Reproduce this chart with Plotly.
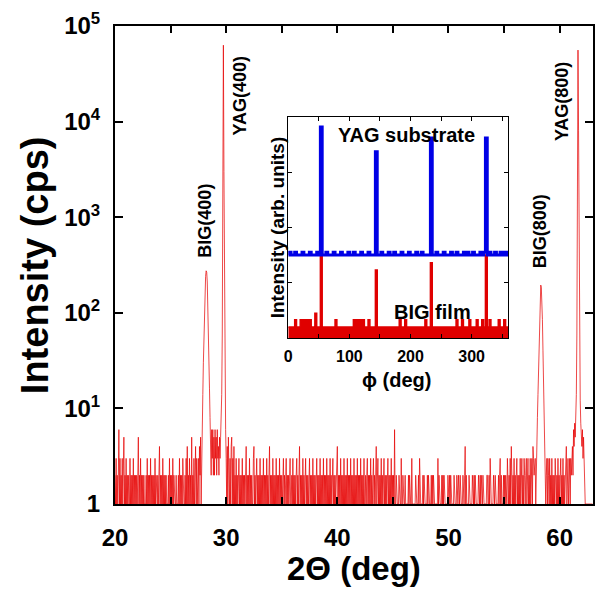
import plotly.graph_objects as go

# ---- 2theta-omega scan, counts per second, 0.05 deg steps ----
step = 0.05

# 20.00 - 27.45
noise_a = [2, 1, 3, 1, 2, 1, 2, 6, 1, 3,
           1, 2, 1, 3, 1, 2, 5, 1, 2, 1,
           3, 1, 2, 1, 2, 1, 1, 3, 1, 2,
           1, 2, 1, 3, 1, 2, 1, 2, 1, 2,
           1, 2, 5, 1, 2, 1, 3, 1, 2, 1,
           2, 1, 2, 1, 1, 1, 2, 1, 3, 1,
           2, 1, 2, 1, 3, 1, 2, 1, 2, 1,
           2, 1, 3, 1, 2, 1, 1, 2, 1, 2,
           4, 1, 2, 1, 2, 1, 3, 1, 2, 1,
           2, 1, 2, 1, 1, 1, 2, 1, 3, 1,
           2, 1, 2, 1, 3, 1, 2, 1, 1, 1,
           2, 1, 1, 1, 2, 1, 3, 1, 2, 1,
           2, 1, 3, 1, 1, 1, 2, 1, 3, 1,
           4, 1, 2, 1, 3, 1, 2, 1, 5, 1,
           2, 1, 3, 1, 2, 4, 1, 3, 1, 2]
# 27.50 - 29.45
big400 = [3, 1, 4, 2, 5, 1, 4, 8, 14, 30,
          60, 110, 180, 240, 275, 265, 210, 130, 70, 35,
          16, 8, 5, 2, 6, 3, 6, 2, 5, 2,
          6, 3, 5, 2, 6, 3, 4, 2, 5, 3]
# 29.50 - 30.45
yag400 = [5, 8, 14, 60, 2500, 63000, 3000, 90, 15, 6,
          3, 1, 4, 1, 5, 2, 1, 3, 1, 4]
# 30.50 - 57.75
noise_b = [5, 1, 3, 1, 4, 1, 2, 1, 3, 1,
           2, 1, 2, 3, 1, 2, 1, 2, 1, 3,
           1, 2, 1, 2, 1, 3, 4, 1, 2, 1,
           2, 1, 3, 1, 2, 1, 2, 1, 1, 3,
           4, 1, 2, 1, 2, 3, 1, 2, 1, 2,
           1, 3, 1, 2, 1, 2, 1, 3, 1, 2,
           1, 2, 1, 3, 1, 2, 1, 2, 4, 1,
           2, 1, 2, 1, 3, 1, 2, 1, 2, 1,
           3, 1, 2, 1, 2, 1, 3, 1, 2, 1,
           2, 1, 2, 3, 1, 2, 1, 2, 3, 1,
           2, 1, 2, 1, 2, 3, 1, 1, 2, 1,
           3, 1, 2, 1, 2, 1, 2, 3, 1, 2,
           1, 2, 4, 1, 2, 1, 2, 1, 3, 1,
           2, 1, 2, 3, 1, 2, 1, 2, 1, 2,
           3, 1, 2, 1, 2, 1, 3, 1, 2, 1,
           2, 1, 2, 3, 1, 2, 1, 2, 1, 3,
           1, 2, 1, 2, 1, 3, 1, 2, 1, 2,
           1, 3, 1, 2, 1, 2, 1, 3, 1, 2,
           1, 2, 3, 1, 2, 1, 2, 1, 2, 3,
           4, 1, 2, 1, 2, 1, 3, 1, 2, 1,
           2, 1, 3, 1, 2, 1, 2, 1, 3, 1,
           2, 1, 2, 1, 3, 1, 2, 1, 2, 1,
           3, 1, 2, 1, 2, 1, 3, 1, 2, 1,
           2, 1, 3, 1, 2, 1, 2, 1, 3, 1,
           1, 2, 1, 2, 3, 1, 2, 1, 2, 1,
           3, 1, 2, 1, 2, 3, 1, 2, 1, 2,
           4, 1, 2, 3, 1, 2, 1, 2, 1, 3,
           1, 2, 1, 2, 3, 1, 2, 1, 2, 1,
           2, 3, 1, 2, 1, 2, 1, 3, 1, 2,
           1, 2, 1, 6, 1, 1, 2, 1, 1, 1,
           1, 2, 1, 1, 1, 3, 1, 1, 2, 1,
           1, 1, 2, 1, 1, 1, 1, 1, 2, 1,
           2, 1, 1, 1, 3, 1, 1, 1, 1, 1,
           1, 2, 1, 1, 1, 1, 2, 1, 3, 1,
           1, 1, 1, 1, 2, 1, 2, 1, 1, 1,
           1, 1, 2, 1, 2, 1, 1, 1, 1, 2,
           1, 2, 1, 2, 1, 1, 1, 1, 1, 1,
           1, 3, 1, 2, 1, 1, 1, 1, 2, 1,
           2, 1, 2, 1, 1, 1, 1, 1, 1, 2,
           1, 1, 2, 1, 2, 1, 1, 1, 1, 1,
           2, 1, 1, 1, 1, 2, 1, 1, 2, 1,
           1, 2, 1, 1, 1, 1, 2, 1, 1, 2,
           4, 1, 2, 1, 1, 1, 1, 2, 1, 1,
           1, 1, 1, 2, 1, 1, 2, 1, 2, 1,
           1, 1, 1, 1, 2, 1, 1, 2, 1, 2,
           1, 1, 2, 1, 1, 1, 1, 1, 1, 2,
           2, 1, 1, 2, 1, 3, 1, 1, 1, 1,
           1, 2, 1, 1, 2, 1, 1, 1, 1, 1,
           2, 1, 2, 3, 1, 2, 1, 1, 1, 2,
           1, 2, 1, 2, 1, 1, 3, 1, 1, 2,
           1, 3, 1, 4, 2, 1, 2, 1, 3, 1,
           2, 1, 2, 3, 1, 2, 1, 2, 1, 3,
           1, 2, 3, 1, 2, 1, 3, 2, 1, 2,
           3, 1, 2, 3, 1, 2, 1, 3, 1, 2,
           3, 1, 4, 3, 2, 3]
# 57.80 - 58.95
big800 = [3, 1, 3, 5, 8, 14, 28, 60, 110, 160, 195, 185,
          140, 85, 40, 18, 9, 5, 3, 1, 2, 3, 1, 3]
# 59.00 - 61.25
noise_c = [2, 1, 3, 1, 2, 1, 3, 1, 2, 1,
           2, 1, 3, 2, 1, 2, 1, 3, 1, 2,
           1, 2, 3, 1, 2, 1, 3, 1, 2, 1,
           2, 3, 4, 1, 2, 3, 1, 2, 3, 1,
           3, 2, 3, 4, 2, 6]
# 61.30 - 62.95
yag800 = [4, 7, 5, 9, 14, 60, 3000, 56000, 8000, 300,
          40, 12, 7, 5, 4, 6, 3, 5, 2, 1,
          1, 1, 1, 1, 1, 1, 1, 1, 1, 1,
          1, 1, 1, 1]

segments = [(20.0, noise_a), (27.5, big400), (29.5, yag400), (30.5, noise_b),
            (57.8, big800), (59.0, noise_c), (61.3, yag800)]

# ---- phi scan (inset), 3 deg steps, arb. units ----
phi_step = 3
film = [0.2, 0.2, 0.2, 0.2, 0.33, 0.2, 0.2, 0.33, 0.33, 0.33,
        0.33, 0.33, 0.33, 0.2, 0.2, 0.45, 0.2, 0.2, 1.5, 0.2,
        0.2, 0.2, 0.2, 0.2, 0.2, 0.2, 0.33, 0.2, 0.2, 0.2,
        0.2, 0.2, 0.2, 0.2, 0.2, 0.2, 0.33, 0.33, 0.33, 0.33,
        0.33, 0.33, 0.2, 0.2, 0.33, 0.2, 0.2, 0.2, 1.23, 0.2,
        0.2, 0.2, 0.2, 0.2, 0.2, 0.2, 0.2, 0.2, 0.2, 0.2,
        0.2, 0.33, 0.2, 0.2, 0.33, 0.2, 0.2, 0.2, 0.2, 0.2,
        0.2, 0.2, 0.2, 0.2, 0.2, 0.33, 0.2, 0.2, 1.36, 0.2,
        0.2, 0.2, 0.2, 0.2, 0.2, 0.2, 0.2, 0.2, 0.2, 0.2,
        0.2, 0.2, 0.33, 0.2, 0.2, 0.33, 0.2, 0.2, 0.2, 0.33,
        0.2, 0.2, 0.2, 0.33, 0.2, 0.2, 0.33, 0.2, 1.5, 0.2,
        0.33, 0.2, 0.2, 0.2, 0.2, 0.33, 0.2, 0.2, 0.33, 0.2, 0.2]
substrate = [1.5, 1.55, 1.5, 1.5, 1.55, 1.5, 1.5, 1.5, 1.55, 1.5,
             1.5, 1.5, 1.55, 1.5, 1.5, 1.5, 1.55, 1.5, 3.82, 1.5,
             1.5, 1.55, 1.5, 1.5, 1.5, 1.55, 1.5, 1.5, 1.5, 1.55,
             1.5, 1.5, 1.5, 1.55, 1.5, 1.5, 1.55, 1.5, 1.5, 1.5,
             1.55, 1.5, 1.5, 1.5, 1.55, 1.5, 1.5, 1.5, 3.37, 1.5,
             1.5, 1.55, 1.5, 1.5, 1.5, 1.55, 1.5, 1.5, 1.55, 1.5,
             1.5, 1.5, 1.55, 1.5, 1.5, 1.5, 1.55, 1.5, 1.5, 1.5,
             1.55, 1.5, 1.5, 1.55, 1.5, 1.5, 1.5, 1.5, 3.62, 1.5,
             1.5, 1.55, 1.5, 1.5, 1.5, 1.55, 1.5, 1.5, 1.5, 1.55,
             1.5, 1.5, 1.55, 1.5, 1.5, 1.5, 1.55, 1.5, 1.55, 1.5,
             1.5, 1.55, 1.5, 1.5, 1.5, 1.55, 1.5, 1.55, 3.62, 1.5,
             1.55, 1.5, 1.5, 1.55, 1.5, 1.5, 1.55, 1.5, 1.55, 1.5, 1.55]

y_ticks = [1, 10, 100, 1000, 10000, 100000]
y_ticktext = ['1', '10<sup>1</sup>', '10<sup>2</sup>', '10<sup>3</sup>', '10<sup>4</sup>', '10<sup>5</sup>']
x_ticks = [20, 25, 30, 35, 40, 45, 50, 55, 60]
x_ticktext = ['20', '', '30', '', '40', '', '50', '', '60']
phi_ticks = [0, 50, 100, 150, 200, 250, 300, 350]
phi_ticktext = ['0', '', '100', '', '200', '', '300', '']

FONT = 'Liberation Sans'

tt, cps = [], []
for start, vals in segments:
    tt += [start + step * i for i in range(len(vals))]
    cps += vals
phi = [phi_step * i for i in range(len(film))]

fig = go.Figure()

# main scan
fig.add_trace(go.Scatter(x=tt, y=cps, mode='lines',
                         line=dict(color='rgba(230,0,0,0.9)', width=0.8),
                         showlegend=False, xaxis='x', yaxis='y'))

# inset: film first so the substrate line sits on top
fig.add_trace(go.Scatter(x=phi, y=film, mode='lines', line_shape='hvh',
                         line=dict(color='#e00000', width=1.5),
                         fill='tozeroy', fillcolor='#e00000',
                         showlegend=False, xaxis='x2', yaxis='y2'))
fig.add_trace(go.Scatter(x=phi, y=substrate, mode='lines', line_shape='hvh',
                         line=dict(color='#0000e6', width=3),
                         showlegend=False, xaxis='x2', yaxis='y2'))

axis_common = dict(showgrid=False, zeroline=False, showline=True, linecolor='black',
                   ticks='inside', mirror='allticks', tickcolor='black')

fig.update_layout(
    width=598, height=589,
    margin=dict(l=115, r=3, t=26, b=85),
    paper_bgcolor='white', plot_bgcolor='white',
    font=dict(family=FONT, color='black'),
    xaxis=dict(axis_common, domain=[0, 1], range=[20, 63], linewidth=2,
               tickvals=x_ticks, ticktext=x_ticktext, ticklen=7, tickwidth=2,
               tickfont=dict(size=24, weight='bold'), ticklabelstandoff=11),
    yaxis=dict(axis_common, domain=[0, 1], type='log', range=[0, 5], linewidth=2,
               tickvals=y_ticks, ticktext=y_ticktext, ticklen=8, tickwidth=2,
               tickfont=dict(size=24, weight='bold'), ticklabelstandoff=8),
    xaxis2=dict(axis_common, domain=[0.3625, 0.8229], anchor='y2', range=[0, 360],
                linewidth=1.2, tickvals=phi_ticks, ticktext=phi_ticktext,
                ticklen=4, tickwidth=1.2, tickfont=dict(size=16, weight='bold'),
                ticklabelstandoff=4),
    yaxis2=dict(axis_common, domain=[0.3473, 0.8096], anchor='x2', range=[0, 4],
                linewidth=1.2, tickvals=[1, 2, 3], showticklabels=False,
                ticklen=4, tickwidth=1.2),
)

def label(text, x, y, size, angle=0):
    fig.add_annotation(text=text, x=x, y=y, xref='paper', yref='paper',
                       showarrow=False, textangle=angle,
                       font=dict(family=FONT, size=size, color='black', weight='bold'),
                       xanchor='center', yanchor='middle')

# axis titles
label('Intensity (cps)', -0.167, 0.5, 38, -90)
label('2\u0398 (deg)', 0.5, -0.134, 33)
# peak labels
label('BIG(400)', 0.1875, 0.592, 18, -90)
label('YAG(400)', 0.2625, 0.8536, 18, -90)
label('BIG(800)', 0.8896, 0.5711, 18, -90)
label('YAG(800)', 0.9354, 0.841, 18, -90)
# inset labels
label('YAG substrate', 0.6104, 0.772, 20)
label('BIG film', 0.6646, 0.4017, 20)
label('\u03d5 (deg)', 0.5896, 0.2594, 20)
label('Intensity (arb. units)', 0.3417, 0.5795, 19, -90)

fig.write_html('out.html', config={'displayModeBar': False},
               post_script="document.body.style.margin='0';")
